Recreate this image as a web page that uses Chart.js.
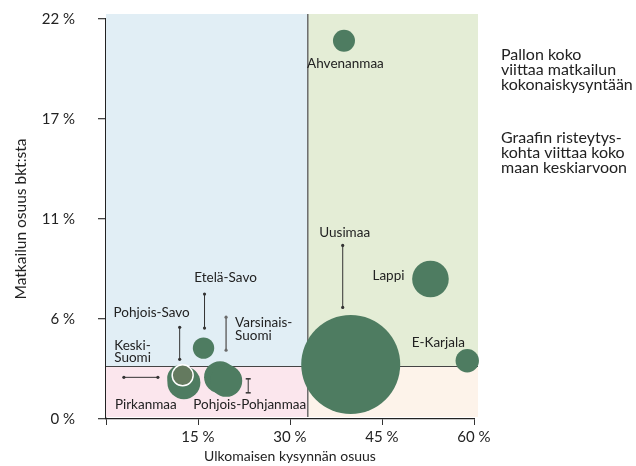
<!DOCTYPE html>
<html><head><meta charset="utf-8">
<script src="https://cdn.jsdelivr.net/npm/chart.js@4/dist/chart.umd.min.js"></script>
<style>html,body{margin:0;padding:0;background:#fff}#wrap{position:relative;width:636px;height:466px}</style>
</head><body><div id="wrap"><canvas id="c" width="636" height="466"></canvas></div>
<script>
// ---- data ----
const regions = ['Uusimaa','Ahvenanmaa','Lappi','E-Karjala','Etelä-Savo','Varsinais-Suomi','Pohjois-Pohjanmaa','Keski-Suomi','Pirkanmaa','Pohjois-Savo'];
const foreignDemandShare = [39.9, 38.8, 52.9, 58.9, 15.9, 18.6, 19.6, 12.1, 12.7, 12.5];   // % (x)
const tourismGdpShare   = [3.0, 20.8, 7.7, 3.2, 3.9, 2.3, 2.1, 2.25, 2.0, 2.4];           // % (y)
const totalDemandBubble = [49.5, 11, 18.3, 11.7, 10.7, 16, 16, 13, 16.5, 10.5];           // bubble radius
const avgForeignShare = 32.9;
const avgGdpShare = 2.9;
const xTickValues = [0, 15, 30, 45, 60];
const yTickValues = [0, 5.5, 11, 16.5, 22];
const xTitle = 'Ulkomaisen kysynnän osuus';
const yTitle = 'Matkailun osuus bkt:sta';
const noteBlock1 = ['Pallon koko', 'viittaa matkailun', 'kokonaiskysyntään'];
const noteBlock2 = ['Graafin risteytys-', 'kohta viittaa koko', 'maan keskiarvoon'];

// ---- styles / label layout (pixel offsets from bubble centre) ----
const FONT = 'Lato, "Open Sans", sans-serif';
const GREEN = '#4e7c61';
const labelLayout = {
  'Uusimaa': {lines:['Uusimaa'], dx:-6, dy:[-132], align:'center', lead:[-8,-119,-8,-57], end:'dot'},
  'Ahvenanmaa': {lines:['Ahvenanmaa'], dx:1.5, dy:[23], align:'center'},
  'Lappi': {lines:['Lappi'], dx:-42, dy:[-3], align:'center'},
  'E-Karjala': {lines:['E-Karjala'], dx:-29, dy:[-18], align:'center'},
  'Etelä-Savo': {lines:['Etelä-Savo'], dx:22, dy:[-70], align:'center', lead:[1,-54,1,-20], end:'dot'},
  'Varsinais-Suomi': {lines:['Varsinais-','Suomi'], dx:15, dy:[-55,-42], align:'left', lead:[6,-60,6,-27], end:'dot', color:'#6a6a6a', width:1.5},
  'Pohjois-Pohjanmaa': {lines:['Pohjois-Pohjanmaa'], dx:23.5, dy:[24], align:'center', lead:[22,-2,22,12], end:'cap'},
  'Keski-Suomi': {lines:['Keski-','Suomi'], dx:-66, dy:[-32.3,-20.7], align:'left'},
  'Pirkanmaa': {lines:['Pirkanmaa'], dx:-69, dy:[22], align:'left', lead:[-60,-5.3,-26,-5.3], end:'dot'},
  'Pohjois-Savo': {lines:['Pohjois-Savo'], dx:-31, dy:[-63], align:'center', lead:[-3,-48,-3,-16], end:'dot'}
};

const pointFill = regions.map(r => r === 'Pohjois-Savo' ? '#647a5f' : GREEN);
const pointBorder = regions.map(r => r === 'Pohjois-Savo' ? '#ffffff' : GREEN);
const pointBorderW = regions.map(r => r === 'Pohjois-Savo' ? 1.5 : 0);

const quadrantPlugin = {
  id: 'quadrants',
  beforeDatasetsDraw(chart) {
    const {ctx, chartArea: a, scales: {x, y}} = chart;
    const left = a.left, right = a.right + 4, top = a.top - 5, bottom = a.bottom - 2;
    const mx = x.getPixelForValue(avgForeignShare);
    const my = y.getPixelForValue(avgGdpShare);
    ctx.save();
    ctx.fillStyle = '#e1eef5'; ctx.fillRect(left, top, mx - left, my - top);
    ctx.fillStyle = '#e4edd6'; ctx.fillRect(mx, top, right - mx, my - top);
    ctx.fillStyle = '#fbe6ed'; ctx.fillRect(left, my, mx - left, bottom - my);
    ctx.fillStyle = '#fdf3ea'; ctx.fillRect(mx, my, right - mx, bottom - my);
    ctx.strokeStyle = '#444'; ctx.lineWidth = 1;
    ctx.beginPath(); ctx.moveTo(left, Math.round(my) + 0.5); ctx.lineTo(right, Math.round(my) + 0.5); ctx.stroke();
    ctx.strokeStyle = '#6b6b6b'; ctx.lineWidth = 1.5;
    ctx.beginPath(); ctx.moveTo(mx, top); ctx.lineTo(mx, bottom); ctx.stroke();
    ctx.restore();
  }
};

const labelPlugin = {
  id: 'labels',
  afterDatasetsDraw(chart) {
    const {ctx} = chart;
    const meta = chart.getDatasetMeta(0);
    ctx.save();
    ctx.font = '13.5px ' + FONT;
    ctx.textBaseline = 'middle';
    regions.forEach((name, i) => {
      const L = labelLayout[name]; if (!L) return;
      const p = meta.data[i];
      ctx.fillStyle = '#222';
      ctx.textAlign = L.align;
      L.lines.forEach((t, k) => ctx.fillText(t, p.x + L.dx, p.y + L.dy[k]));
      if (L.lead) {
        const [x1, y1, x2, y2] = L.lead;
        const ax = p.x + x1, ay = p.y + y1, bx = p.x + x2, by = p.y + y2;
        ctx.strokeStyle = L.color || '#333';
        ctx.fillStyle = L.color || '#333';
        ctx.lineWidth = L.width || 1;
        ctx.beginPath(); ctx.moveTo(ax, ay); ctx.lineTo(bx, by); ctx.stroke();
        if (L.end === 'dot') {
          [[ax, ay], [bx, by]].forEach(([u, v]) => { ctx.beginPath(); ctx.arc(u, v, 1.6, 0, Math.PI * 2); ctx.fill(); });
        } else if (L.end === 'cap') {
          ctx.lineWidth = 1.5;
          [[ax, ay], [bx, by]].forEach(([u, v]) => { ctx.beginPath(); ctx.moveTo(u - 2.5, v); ctx.lineTo(u + 2.5, v); ctx.stroke(); });
        }
      }
    });
    // side notes
    ctx.fillStyle = '#222';
    ctx.textAlign = 'left';
    ctx.font = '16px ' + FONT;
    noteBlock1.forEach((t, k) => ctx.fillText(t, 501, 55 + k * 15));
    noteBlock2.forEach((t, k) => ctx.fillText(t, 501, 138 + k * 15));
    ctx.restore();
  }
};

new Chart(document.getElementById('c'), {
  type: 'bubble',
  data: {
    datasets: [{
      data: regions.map((r, i) => ({x: foreignDemandShare[i], y: tourismGdpShare[i], r: totalDemandBubble[i]})),
      backgroundColor: pointFill,
      borderColor: pointBorder,
      borderWidth: pointBorderW,
      clip: false
    }]
  },
  options: {
    responsive: false,
    animation: false,
    events: [],
    layout: {autoPadding: false, padding: {left: 0, top: 19, right: 162, bottom: 0}},
    plugins: {legend: {display: false}, tooltip: {enabled: false}},
    scales: {
      x: {
        type: 'linear', min: 0, max: 60,
        afterFit(s) { s.height = 47; s.paddingLeft = 0; s.paddingRight = 0; },
        afterBuildTicks(s) { s.ticks = xTickValues.map(v => ({value: v})); },
        border: {display: true, color: '#222', width: 1.3},
        grid: {drawOnChartArea: false, drawTicks: true, tickLength: 6, color: '#333', lineWidth: 1},
        ticks: {padding: 3, color: '#222', font: {family: FONT, size: 15}, callback: v => v === 0 ? '' : v + ' %'},
        title: {display: true, text: xTitle, color: '#222', font: {family: FONT, size: 14}, padding: {top: 0, bottom: 1}}
      },
      y: {
        type: 'linear', min: 0, max: 22,
        afterFit(s) { s.width = 106; s.paddingTop = 0; s.paddingBottom = 0; },
        afterBuildTicks(s) { s.ticks = yTickValues.map(v => ({value: v})); },
        border: {display: true, color: '#222', width: 1.3},
        grid: {drawOnChartArea: false, drawTicks: true, tickLength: 8, color: '#444', lineWidth: 1.3},
        ticks: {padding: 23, color: '#222', font: {family: FONT, size: 15}, callback: v => Math.round(v) + ' %'},
        title: {display: true, text: yTitle, color: '#222', font: {family: FONT, size: 15.5}, padding: {top: 12, bottom: 0}}
      }
    }
  },
  plugins: [quadrantPlugin, labelPlugin]
});
</script></body></html>
